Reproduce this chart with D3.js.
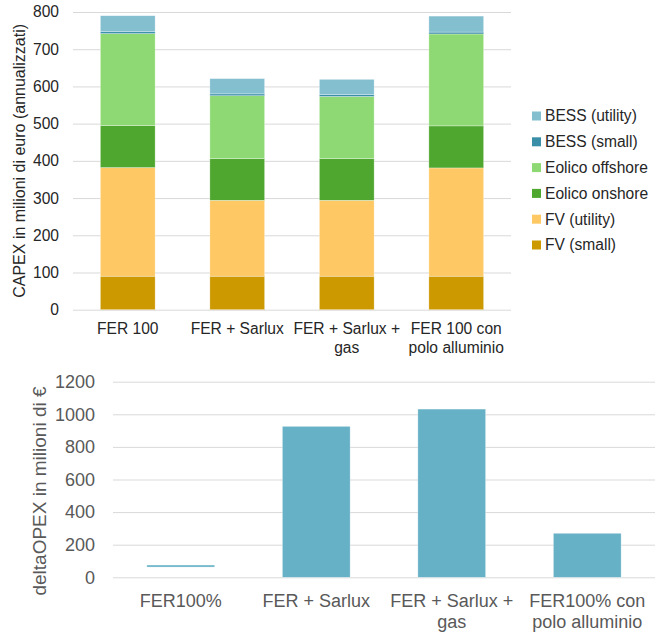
<!DOCTYPE html>
<html lang="en">
<head>
    <meta charset="UTF-8">
    <title>CAPEX e deltaOPEX</title>
    <script src="https://d3js.org/d3.v7.min.js"></script>
    <style>
        body {
            margin: 0;
            background: #ffffff;
            font-family: "Liberation Sans", Arial, sans-serif;
        }
        .grid line {
            stroke: #d9d9d9;
            stroke-width: 1;
        }
    </style>
</head>
<body>
    <svg id="chart" width="663" height="632"></svg>

    <script>
        // top chart: annualised CAPEX by scenario
        const capexScenari = ["FER 100", "FER + Sarlux", "FER + Sarlux + gas", "FER 100 con polo alluminio"];
        const capexLabels = [["FER 100"], ["FER + Sarlux"], ["FER + Sarlux +", "gas"], ["FER 100 con", "polo alluminio"]];
        const capexSeries = ["FV (small)", "FV (utility)", "Eolico onshore", "Eolico offshore", "BESS (small)", "BESS (utility)"];
        const fvSmall = [90, 90, 90, 90];
        const fvUtility = [292, 204, 204, 291];
        const eolicoOnshore = [113, 112, 112, 113];
        const eolicoOffshore = [247, 169, 167, 247];
        const bessSmall = [5, 5, 5, 5];
        const bessUtility = [43, 41, 41, 43];
        const capexTicks = [0, 100, 200, 300, 400, 500, 600, 700, 800];

        // bottom chart: delta OPEX
        const opexScenari = ["FER100%", "FER + Sarlux", "FER + Sarlux + gas", "FER100% con polo alluminio"];
        const opexLabels = [["FER100%"], ["FER + Sarlux"], ["FER + Sarlux +", "gas"], ["FER100% con", "polo alluminio"]];
        const opexValues = [69, 926, 1032, 270];
        const opexTicks = [0, 200, 400, 600, 800, 1000, 1200];

        const seriesColors = ["#cc9900", "#fec965", "#4fa72f", "#8fd974", "#3a8fa8", "#84bfd0"];
        const opexColor = "#67b1c6";

        const svg = d3.select("#chart");

        // ---------- CAPEX ----------
        const capexBox = {left: 73, right: 511, top: 12, bottom: 309.7};
        const capexData = capexScenari.map((s, i) => ({
            scenario: s,
            "FV (small)": fvSmall[i],
            "FV (utility)": fvUtility[i],
            "Eolico onshore": eolicoOnshore[i],
            "Eolico offshore": eolicoOffshore[i],
            "BESS (small)": bessSmall[i],
            "BESS (utility)": bessUtility[i]
        }));

        const x1 = d3.scaleBand()
            .domain(capexScenari)
            .range([capexBox.left, capexBox.right])
            .paddingInner(0.5)
            .paddingOuter(0.25);
        const y1 = d3.scaleLinear()
            .domain([0, 800])
            .range([capexBox.bottom, capexBox.top]);

        svg.append("g")
            .attr("class", "grid")
            .attr("transform", `translate(${capexBox.left},0)`)
            .call(d3.axisLeft(y1).tickValues(capexTicks).tickSize(-(capexBox.right - capexBox.left)).tickFormat(""))
            .call(g => g.select(".domain").remove());

        svg.append("g")
            .selectAll("text")
            .data(capexTicks)
            .join("text")
            .attr("x", 59)
            .attr("y", d => y1(d))
            .attr("dy", "0.35em")
            .attr("text-anchor", "end")
            .attr("font-size", "15.6px")
            .attr("fill", "#262626")
            .text(d => d);

        const stacked = d3.stack().keys(capexSeries)(capexData);
        svg.append("g")
            .selectAll("g")
            .data(stacked)
            .join("g")
            .attr("fill", (d, i) => seriesColors[i])
            .selectAll("rect")
            .data(d => d)
            .join("rect")
            .attr("x", d => x1(d.data.scenario))
            .attr("width", x1.bandwidth())
            .attr("y", d => y1(d[1]))
            .attr("height", d => y1(d[0]) - y1(d[1]))
            .attr("stroke", "#ffffff")
            .attr("stroke-opacity", 0.5)
            .attr("stroke-width", 0.6);

        const cat1 = svg.append("g")
            .selectAll("text")
            .data(capexScenari)
            .join("text")
            .attr("x", d => x1(d) + x1.bandwidth() / 2)
            .attr("y", 334)
            .attr("text-anchor", "middle")
            .attr("font-size", "15.6px")
            .attr("fill", "#262626");
        cat1.selectAll("tspan")
            .data((d, i) => capexLabels[i])
            .join("tspan")
            .attr("x", function() { return d3.select(this.parentNode).attr("x"); })
            .attr("dy", (d, i) => i === 0 ? 0 : 18.5)
            .text(d => d);

        svg.append("text")
            .attr("transform", `translate(25, ${(capexBox.top + capexBox.bottom) / 2}) rotate(-90)`)
            .attr("text-anchor", "middle")
            .attr("font-size", "16px")
            .attr("fill", "#262626")
            .text("CAPEX in milioni di euro (annualizzati)");

        // legend, drawn top to bottom in reverse stack order
        const legend = svg.append("g")
            .selectAll("g")
            .data(capexSeries.slice().reverse())
            .join("g")
            .attr("transform", (d, i) => `translate(532, ${116 + i * 25.8})`);
        legend.append("rect")
            .attr("x", 0)
            .attr("y", -4.5)
            .attr("width", 9)
            .attr("height", 9)
            .attr("fill", d => seriesColors[capexSeries.indexOf(d)]);
        legend.append("text")
            .attr("x", 13)
            .attr("dy", "0.35em")
            .attr("font-size", "15.6px")
            .attr("fill", "#262626")
            .text(d => d);

        // ---------- delta OPEX ----------
        const opexBox = {left: 113, right: 655, top: 381.7, bottom: 577.3};
        const x2 = d3.scaleBand()
            .domain(opexScenari)
            .range([opexBox.left, opexBox.right])
            .paddingInner(0.5)
            .paddingOuter(0.25);
        const y2 = d3.scaleLinear()
            .domain([0, 1200])
            .range([opexBox.bottom, opexBox.top]);

        svg.append("g")
            .attr("class", "grid")
            .attr("transform", `translate(${opexBox.left},0)`)
            .call(d3.axisLeft(y2).tickValues(opexTicks).tickSize(-(opexBox.right - opexBox.left)).tickFormat(""))
            .call(g => g.select(".domain").remove());

        svg.append("g")
            .selectAll("text")
            .data(opexTicks)
            .join("text")
            .attr("x", 95)
            .attr("y", d => y2(d))
            .attr("dy", "0.35em")
            .attr("text-anchor", "end")
            .attr("font-size", "18px")
            .attr("fill", "#595959")
            .text(d => d);

        // the first scenario shows only as a thin line at its value
        svg.append("g")
            .selectAll("rect")
            .data(opexValues)
            .join("rect")
            .attr("x", (d, i) => x2(opexScenari[i]))
            .attr("width", x2.bandwidth())
            .attr("y", d => y2(d) - (d < 100 ? 1 : 0))
            .attr("height", d => d < 100 ? 2 : y2(0) - y2(d))
            .attr("fill", opexColor)
            .attr("stroke", "#ffffff")
            .attr("stroke-opacity", 0.5)
            .attr("stroke-width", 0.6);

        const cat2 = svg.append("g")
            .selectAll("text")
            .data(opexScenari)
            .join("text")
            .attr("x", d => x2(d) + x2.bandwidth() / 2)
            .attr("y", 606.5)
            .attr("text-anchor", "middle")
            .attr("font-size", "18px")
            .attr("fill", "#595959");
        cat2.selectAll("tspan")
            .data((d, i) => opexLabels[i])
            .join("tspan")
            .attr("x", function() { return d3.select(this.parentNode).attr("x"); })
            .attr("dy", (d, i) => i === 0 ? 0 : 21)
            .text(d => d);

        svg.append("text")
            .attr("transform", `translate(46, 491) rotate(-90)`)
            .attr("text-anchor", "middle")
            .attr("font-size", "19px")
            .attr("fill", "#595959")
            .text("deltaOPEX in milioni di €");
    </script>
</body>
</html>
